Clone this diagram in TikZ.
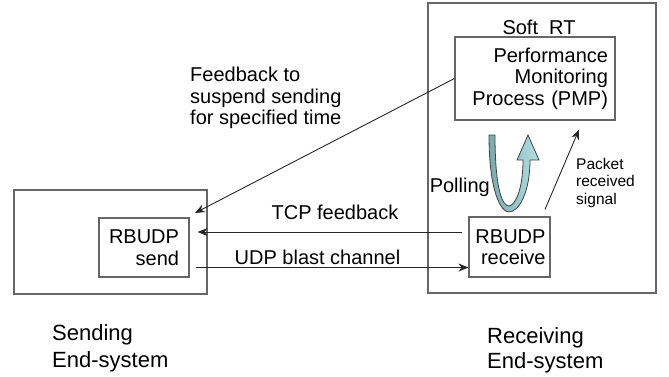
\documentclass[tikz,border=0pt]{standalone}
\usepackage{fontspec}
\setmainfont{Liberation Sans}
\usetikzlibrary{arrows.meta,positioning}
\definecolor{pollcyan}{RGB}{178,224,228}
\definecolor{pollteal}{RGB}{120,170,175}

\tikzset{
  box/.style={draw=black!60, line width=1.2pt, inner sep=0pt},
  proc/.style={box, align=right},
  lbl/.style={inner sep=0pt, align=left, anchor=north west},
  arr/.style={draw=black!85, line width=0.9pt, -{Stealth[length=10pt,width=8pt]}},
}

\begin{document}
\begin{tikzpicture}[x=1pt,y=-1pt,font=\fontsize{20}{21.5}\selectfont]
\useasboundingbox (0,0) rectangle (669,376);

% draw end-system boxes
\node[box, minimum width=193pt, minimum height=104pt] (sendsys) at (110.5,242) {};
\node[box, minimum width=228pt, minimum height=290pt] (recvsys) at (542,148) {};

% draw process boxes
\node[proc, text width=70pt, minimum width=90pt, minimum height=59pt] (send) at (144,247.5) {RBUDP\\send};
\node[proc, text width=72pt, minimum width=81pt, minimum height=60pt] (recv) at (509.5,247) {RBUDP\\receive};
\node[proc, text width=146pt, minimum width=160pt, minimum height=83pt] (pmp) at (535,78.5) {Performance\\Monitoring\\Process (PMP)};

% draw labels
\node[inner sep=0pt, anchor=north] (soft) at (539,20) {Soft\ \ RT};
\node[lbl] (fbtext) at (190,67) {Feedback to\\suspend sending\\for specified time};
\node[inner sep=0pt, anchor=north] (tcp) at (335,205) {TCP feedback};
\node[inner sep=0pt, anchor=north] (udp) at (317.5,250) {UDP blast channel};
\node[lbl, anchor=north east] (poll) at (490,178) {Polling};
\node[lbl, font=\fontsize{15.5}{17.5}\selectfont] (pktsig) at (576,158) {Packet\\received\\signal};
\node[lbl, font=\fontsize{22}{27}\selectfont] (sendlbl) at (52,324) {Sending\\End-system};
\node[lbl, font=\fontsize{22}{25}\selectfont] (recvlbl) at (487,327) {Receiving\\End-system};

% draw connectors
\coordinate (fbend) at (195,213);
\draw[arr] (pmp.west) -- (fbend);
\draw[arr, shorten <=6pt, shorten >=8pt] ([yshift=15pt]recv.west) -- ([yshift=15pt]recv.west -| send.east);
\draw[arr, shorten <=6pt] ([yshift=-20pt]send.east) -- ([yshift=-20pt]send.east -| recv.west);
\draw[arr] ([xshift=35.5pt,yshift=7pt]recv.north) -- ([xshift=44pt,yshift=-9pt]pmp.south);

% draw polling arrow
\shade[left color=pollteal, right color=pollcyan, draw=black!75, line width=0.8pt]
  (489,135) .. controls (489,192) and (501,212) .. (509,212)
  .. controls (519,212) and (530,192) .. (530,160)
  -- (539,160) -- (528,135) -- (517,160) -- (523,160)
  .. controls (523,192) and (514,206) .. (509,206)
  .. controls (503,206) and (495,192) .. (495,135) -- cycle;
\end{tikzpicture}
\end{document}
